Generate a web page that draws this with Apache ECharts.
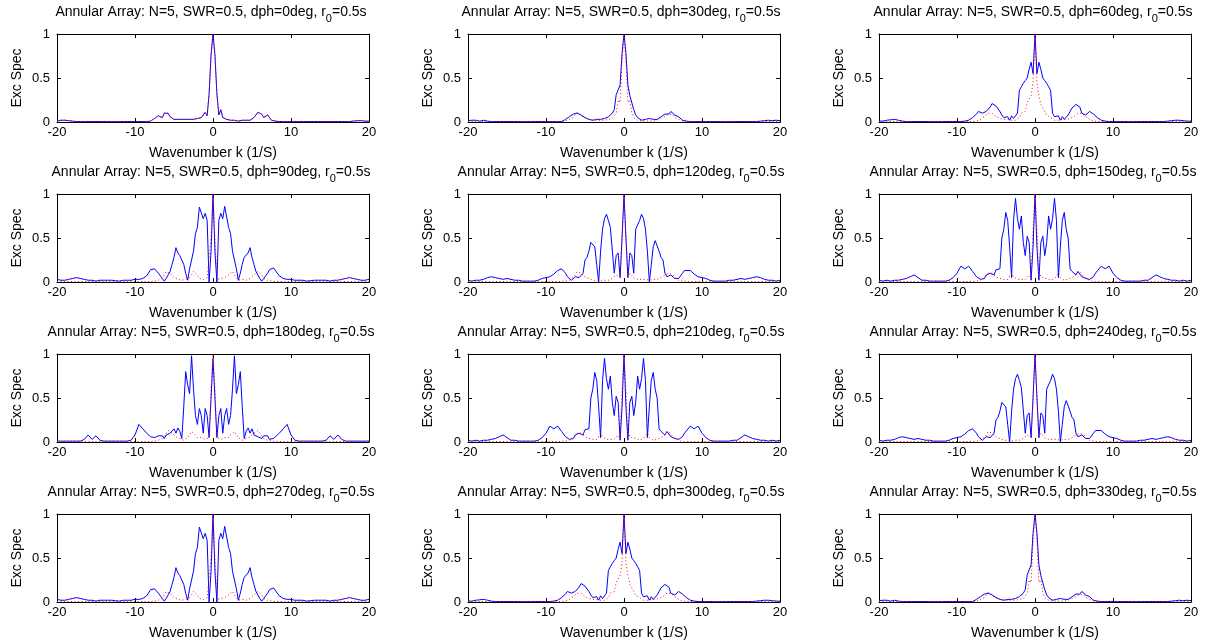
<!DOCTYPE html>
<html>
<head>
<meta charset="utf-8">
<title>Annular Array excitation spectra</title>
<script src="https://cdn.jsdelivr.net/npm/echarts@6/dist/echarts.min.js"></script>
<style>
html, body { margin: 0; padding: 0; background: #ffffff; }
#chart { width: 1207px; height: 644px; }
</style>
</head>
<body>
<div id="chart"></div>
<script>
// Wavenumber sample points k (1/S), shared by every curve
const kGrid = [
  -20,-19.5,-19,-18.5, -18,-17.5,-17,-16.5, -16,-15.5,-15,-14.5, -14,-13.5,-13,-12.5, -12,-11.5,-11,-10.5, -10,-9.5,-9,-8.5,
  -8,-7.75,-7.5,-7.25, -7,-6.75,-6.5,-6.25, -6,-5.75,-5.5,-5.25, -5,-4.75,-4.5,-4.25, -4,-3.75,-3.5,-3.25, -3,-2.75,-2.5,-2.25, -2,-1.75,-1.5,-1.25, -1,-0.75,-0.5,-0.25,
  0,
  0.25,0.5,0.75,1, 1.25,1.5,1.75,2, 2.25,2.5,2.75,3, 3.25,3.5,3.75,4, 4.25,4.5,4.75,5, 5.25,5.5,5.75,6, 6.25,6.5,6.75,7, 7.25,7.5,7.75,8,
  8.5,9,9.5,10, 10.5,11,11.5,12, 12.5,13,13.5,14, 14.5,15,15.5,16, 16.5,17,17.5,18, 18.5,19,19.5,20
];

// Phase step dph (deg) of each panel, row by row
const phases = [0, 30, 60, 90, 120, 150, 180, 210, 240, 270, 300, 330];

const xTicks = [-20, -10, 0, 10, 20];
const yTicks = [0, 0.5, 1];

// Excitation spectrum (solid blue) and reference spectrum (dotted red) per phase
const blue0 = [
  0.01,0.02,0.02,0.015, 0.01,0.005,0.005,0.005, 0.005,0.005,0.005,0.005, 0.005,0.005,0.005,0.005, 0.005,0.005,0.005,0.005, 0.005,0.005,0.005,0.005,
  0.01,0.02,0.04,0.06, 0.07,0.06,0.05,0.1, 0.12,0.1,0.06,0.04, 0.03,0.02,0.03,0.02, 0.03,0.02,0.03,0.01, 0.03,0.02,0.03,0.02, 0.04,0.03,0.05,0.07, 0.11,0.07,0.32,0.76,
  1,
  0.76,0.32,0.08,0.14, 0.05,0.06,0.03,0.04, 0.02,0.03,0.02,0.03, 0.01,0.03,0.02,0.03, 0.02,0.03,0.02,0.03, 0.05,0.07,0.11,0.12, 0.09,0.05,0.07,0.08, 0.05,0.02,0.01,0.01,
  0.005,0.005,0.005,0.005, 0.005,0.005,0.005,0.005, 0.005,0.005,0.005,0.005, 0.005,0.005,0.005,0.005, 0.005,0.005,0.005,0.01, 0.015,0.015,0.01,0.01
];
const red0 = [
  0.01,0.02,0.02,0.015, 0.01,0.005,0.005,0.005, 0.005,0.005,0.005,0.005, 0.005,0.005,0.005,0.005, 0.005,0.005,0.005,0.005, 0.005,0.005,0.005,0.005,
  0.01,0.02,0.04,0.06, 0.07,0.06,0.05,0.1, 0.12,0.1,0.06,0.04, 0.03,0.02,0.03,0.02, 0.03,0.02,0.03,0.01, 0.03,0.02,0.03,0.02, 0.04,0.03,0.05,0.07, 0.11,0.07,0.32,0.76,
  1,
  0.76,0.32,0.08,0.14, 0.05,0.06,0.03,0.04, 0.02,0.03,0.02,0.03, 0.01,0.03,0.02,0.03, 0.02,0.03,0.02,0.03, 0.05,0.07,0.11,0.12, 0.09,0.05,0.07,0.08, 0.05,0.02,0.01,0.01,
  0.005,0.005,0.005,0.005, 0.005,0.005,0.005,0.005, 0.005,0.005,0.005,0.005, 0.005,0.005,0.005,0.005, 0.005,0.005,0.005,0.01, 0.015,0.015,0.01,0.01
];

const blue30 = [
  0.015,0.02,0.02,0.01, 0.02,0.01,0.005,0.005, 0.005,0.005,0.005,0.005, 0.005,0.005,0.005,0.005, 0.005,0.005,0.005,0.005, 0.005,0.005,0.005,0.005,
  0.005,0.01,0.03,0.05, 0.06,0.07,0.09,0.11, 0.1,0.1,0.08,0.06, 0.05,0.04,0.03,0.04, 0.02,0.04,0.03,0.02, 0.03,0.02,0.04,0.05, 0.06,0.08,0.1,0.14, 0.31,0.3,0.42,0.78,
  1,
  0.78,0.42,0.3,0.31, 0.14,0.08,0.05,0.04, 0.02,0.04,0.03,0.02, 0.04,0.02,0.03,0.04, 0.03,0.05,0.06,0.08, 0.09,0.07,0.09,0.12, 0.1,0.08,0.07,0.06, 0.04,0.02,0.01,0.01,
  0.005,0.005,0.005,0.005, 0.005,0.005,0.005,0.005, 0.005,0.005,0.005,0.005, 0.005,0.005,0.005,0.005, 0.005,0.005,0.01,0.015, 0.02,0.015,0.02,0.015
];
const red30 = [
  0.005,0.005,0.005,0.005, 0.005,0.005,0.005,0.005, 0.005,0.005,0.005,0.005, 0.005,0.005,0.005,0.005, 0.005,0.005,0.005,0.005, 0.005,0.005,0.005,0.005,
  0.005,0.005,0.01,0.02, 0.03,0.04,0.05,0.08, 0.11,0.09,0.07,0.06, 0.05,0.04,0.03,0.02, 0.02,0.01,0.02,0.01, 0.02,0.01,0.02,0.01, 0.03,0.02,0.04,0.05, 0.1,0.25,0.22,0.7,
  1,
  0.7,0.22,0.25,0.1, 0.05,0.04,0.02,0.03, 0.01,0.02,0.01,0.02, 0.01,0.02,0.01,0.02, 0.02,0.03,0.04,0.05, 0.06,0.07,0.09,0.11, 0.08,0.05,0.04,0.03, 0.02,0.01,0.005,0.005,
  0.005,0.005,0.005,0.005, 0.005,0.005,0.005,0.005, 0.005,0.005,0.005,0.005, 0.005,0.005,0.005,0.005, 0.005,0.005,0.005,0.005, 0.005,0.005,0.005,0.005
];

const blue60 = [
  0.01,0.01,0.02,0.025, 0.03,0.02,0.01,0.005, 0.005,0.005,0.005,0.005, 0.005,0.005,0.005,0.005, 0.005,0.005,0.005,0.005, 0.005,0.005,0.01,0.02,
  0.05,0.07,0.09,0.12, 0.12,0.1,0.08,0.12, 0.1,0.17,0.21,0.2, 0.18,0.16,0.12,0.08, 0.05,0.03,0.06,0.02, 0.07,0.04,0.06,0.1, 0.36,0.4,0.44,0.47, 0.5,0.6,0.68,0.55,
  1,
  0.55,0.68,0.6,0.5, 0.47,0.44,0.4,0.36, 0.1,0.06,0.04,0.07, 0.02,0.06,0.03,0.05, 0.08,0.12,0.16,0.18, 0.2,0.21,0.17,0.1, 0.12,0.08,0.1,0.12, 0.12,0.09,0.07,0.05,
  0.02,0.01,0.005,0.005, 0.005,0.005,0.005,0.005, 0.005,0.005,0.005,0.005, 0.005,0.005,0.005,0.005, 0.005,0.01,0.015,0.02, 0.02,0.015,0.01,0.01
];
const red60 = [
  0.005,0.005,0.005,0.005, 0.005,0.005,0.005,0.005, 0.005,0.005,0.005,0.005, 0.005,0.005,0.005,0.005, 0.005,0.005,0.005,0.005, 0.005,0.005,0.005,0.005,
  0.005,0.01,0.01,0.02, 0.03,0.04,0.06,0.08, 0.1,0.12,0.1,0.08, 0.06,0.05,0.04,0.03, 0.03,0.02,0.03,0.02, 0.02,0.03,0.02,0.04, 0.05,0.1,0.08,0.12, 0.22,0.2,0.3,0.45,
  1,
  0.45,0.3,0.2,0.22, 0.12,0.08,0.1,0.05, 0.04,0.02,0.03,0.02, 0.02,0.03,0.02,0.03, 0.03,0.04,0.05,0.06, 0.08,0.1,0.12,0.1, 0.08,0.06,0.04,0.03, 0.02,0.01,0.01,0.005,
  0.005,0.005,0.005,0.005, 0.005,0.005,0.005,0.005, 0.005,0.005,0.005,0.005, 0.005,0.005,0.005,0.005, 0.005,0.005,0.005,0.005, 0.005,0.005,0.005,0.005
];

const blue90 = [
  0.03,0.02,0.02,0.03, 0.04,0.05,0.04,0.03, 0.02,0.02,0.01,0.02, 0.02,0.02,0.02,0.015, 0.01,0.02,0.02,0.02, 0.03,0.03,0.04,0.07,
  0.14,0.16,0.15,0.14, 0.1,0.07,0.04,0.01, 0.04,0.08,0.12,0.2, 0.28,0.39,0.33,0.3, 0.28,0.2,0.1,0.02, 0.15,0.25,0.35,0.55, 0.62,0.85,0.86,0.72, 0.78,0.7,0.0,0.35,
  1,
  0.35,0.0,0.7,0.78, 0.72,0.86,0.85,0.62, 0.55,0.35,0.25,0.15, 0.02,0.1,0.2,0.28, 0.3,0.33,0.39,0.28, 0.2,0.12,0.08,0.04, 0.01,0.04,0.07,0.1, 0.14,0.15,0.16,0.14,
  0.07,0.04,0.03,0.03, 0.02,0.02,0.02,0.01, 0.015,0.02,0.02,0.02, 0.02,0.01,0.02,0.02, 0.03,0.04,0.05,0.04, 0.03,0.02,0.02,0.03
];
const red90 = [
  0.005,0.005,0.005,0.005, 0.005,0.005,0.005,0.005, 0.005,0.005,0.005,0.005, 0.005,0.005,0.005,0.005, 0.005,0.005,0.005,0.005, 0.005,0.005,0.005,0.005,
  0.005,0.005,0.01,0.01, 0.02,0.03,0.04,0.08, 0.12,0.12,0.1,0.08, 0.05,0.04,0.03,0.02, 0.02,0.03,0.03,0.02, 0.05,0.08,0.12,0.1, 0.08,0.04,0.05,0.03, 0.04,0.05,0.03,0.5,
  1,
  0.5,0.03,0.05,0.04, 0.03,0.05,0.04,0.08, 0.1,0.12,0.08,0.05, 0.02,0.03,0.03,0.02, 0.02,0.03,0.04,0.05, 0.08,0.1,0.12,0.12, 0.08,0.04,0.03,0.02, 0.01,0.01,0.005,0.005,
  0.005,0.005,0.005,0.005, 0.005,0.005,0.005,0.005, 0.005,0.005,0.005,0.005, 0.005,0.005,0.005,0.005, 0.005,0.005,0.005,0.005, 0.005,0.005,0.005,0.005
];

const blue120 = [
  0.02,0.01,0.02,0.02, 0.03,0.05,0.06,0.05, 0.04,0.03,0.04,0.03, 0.02,0.02,0.01,0.01, 0.01,0.01,0.02,0.04, 0.05,0.06,0.09,0.13,
  0.15,0.13,0.1,0.06, 0.04,0.02,0.04,0.06, 0.08,0.05,0.06,0.1, 0.25,0.28,0.35,0.45, 0.47,0.4,0.2,0.0, 0.35,0.6,0.72,0.77, 0.7,0.62,0.6,0.1, 0.3,0.33,0.05,0.5,
  1,
  0.5,0.05,0.33,0.3, 0.1,0.6,0.62,0.7, 0.77,0.72,0.6,0.35, 0.0,0.2,0.4,0.47, 0.45,0.35,0.28,0.25, 0.1,0.06,0.05,0.08, 0.06,0.04,0.02,0.04, 0.06,0.1,0.13,0.15,
  0.13,0.09,0.06,0.05, 0.04,0.02,0.01,0.01, 0.01,0.01,0.02,0.02, 0.03,0.04,0.03,0.04, 0.05,0.06,0.05,0.03, 0.02,0.02,0.01,0.02
];
const red120 = [
  0.005,0.005,0.005,0.005, 0.005,0.005,0.005,0.005, 0.005,0.005,0.005,0.005, 0.005,0.005,0.005,0.005, 0.005,0.005,0.005,0.005, 0.005,0.005,0.005,0.005,
  0.005,0.005,0.01,0.01, 0.02,0.03,0.05,0.08, 0.12,0.1,0.1,0.08, 0.06,0.05,0.04,0.03, 0.02,0.03,0.02,0.02, 0.01,0.03,0.02,0.03, 0.02,0.03,0.04,0.05, 0.08,0.1,0.05,0.5,
  1,
  0.5,0.05,0.1,0.08, 0.05,0.04,0.03,0.02, 0.03,0.02,0.03,0.01, 0.02,0.02,0.03,0.02, 0.03,0.04,0.05,0.06, 0.08,0.1,0.1,0.12, 0.08,0.05,0.03,0.02, 0.01,0.01,0.005,0.005,
  0.005,0.005,0.005,0.005, 0.005,0.005,0.005,0.005, 0.005,0.005,0.005,0.005, 0.005,0.005,0.005,0.005, 0.005,0.005,0.005,0.005, 0.005,0.005,0.005,0.005
];

const blue150 = [
  0.02,0.01,0.02,0.01, 0.02,0.02,0.03,0.04, 0.06,0.08,0.05,0.02, 0.02,0.01,0.01,0.01, 0.01,0.01,0.02,0.05, 0.1,0.18,0.15,0.18,
  0.12,0.1,0.06,0.05, 0.03,0.05,0.04,0.08, 0.06,0.1,0.12,0.08, 0.14,0.12,0.15,0.5, 0.6,0.79,0.7,0.4, 0.05,0.7,0.95,0.72, 0.6,0.75,0.45,0.3, 0.52,0.45,0.02,0.4,
  1,
  0.4,0.02,0.45,0.52, 0.3,0.45,0.75,0.6, 0.72,0.95,0.7,0.05, 0.4,0.7,0.79,0.6, 0.5,0.15,0.12,0.14, 0.08,0.12,0.1,0.06, 0.08,0.04,0.05,0.03, 0.05,0.06,0.1,0.12,
  0.18,0.15,0.18,0.1, 0.05,0.02,0.01,0.01, 0.01,0.01,0.01,0.02, 0.02,0.05,0.08,0.06, 0.04,0.03,0.02,0.02, 0.01,0.02,0.01,0.02
];
const red150 = [
  0.005,0.005,0.005,0.005, 0.005,0.005,0.005,0.005, 0.005,0.005,0.005,0.005, 0.005,0.005,0.005,0.005, 0.005,0.005,0.005,0.005, 0.005,0.005,0.005,0.005,
  0.005,0.005,0.01,0.01, 0.02,0.03,0.04,0.06, 0.1,0.12,0.1,0.08, 0.06,0.05,0.04,0.03, 0.03,0.02,0.03,0.05, 0.1,0.06,0.04,0.03, 0.02,0.03,0.04,0.03, 0.05,0.08,0.04,0.6,
  1,
  0.6,0.04,0.08,0.05, 0.03,0.04,0.03,0.02, 0.03,0.04,0.06,0.1, 0.05,0.03,0.02,0.03, 0.03,0.04,0.05,0.06, 0.08,0.1,0.12,0.1, 0.06,0.04,0.03,0.02, 0.01,0.01,0.005,0.005,
  0.005,0.005,0.005,0.005, 0.005,0.005,0.005,0.005, 0.005,0.005,0.005,0.005, 0.005,0.005,0.005,0.005, 0.005,0.005,0.005,0.005, 0.005,0.005,0.005,0.005
];

const blue180 = [
  0.01,0.01,0.01,0.01, 0.01,0.01,0.01,0.03, 0.08,0.03,0.07,0.02, 0.01,0.01,0.01,0.01, 0.01,0.01,0.01,0.02, 0.08,0.2,0.15,0.1,
  0.06,0.04,0.05,0.03, 0.07,0.05,0.07,0.04, 0.08,0.06,0.1,0.08, 0.15,0.1,0.16,0.12, 0.04,0.4,0.8,0.65, 0.55,0.98,0.6,0.3, 0.2,0.38,0.3,0.1, 0.38,0.3,0.05,0.5,
  0.95,
  0.5,0.05,0.3,0.38, 0.1,0.3,0.38,0.2, 0.3,0.6,0.98,0.55, 0.65,0.8,0.4,0.04, 0.12,0.16,0.1,0.15, 0.08,0.1,0.06,0.08, 0.04,0.07,0.05,0.07, 0.03,0.05,0.04,0.06,
  0.1,0.15,0.2,0.08, 0.02,0.01,0.01,0.01, 0.01,0.01,0.01,0.01, 0.02,0.07,0.03,0.08, 0.03,0.01,0.01,0.01, 0.01,0.01,0.01,0.01
];
const red180 = [
  0.005,0.005,0.005,0.005, 0.005,0.005,0.005,0.005, 0.005,0.005,0.005,0.005, 0.005,0.005,0.005,0.005, 0.005,0.005,0.005,0.005, 0.005,0.005,0.005,0.005,
  0.005,0.005,0.01,0.01, 0.02,0.03,0.04,0.07, 0.1,0.13,0.12,0.1, 0.08,0.06,0.05,0.04, 0.03,0.02,0.03,0.05, 0.08,0.12,0.1,0.08, 0.05,0.06,0.05,0.04, 0.03,0.04,0.05,0.6,
  1,
  0.6,0.05,0.04,0.03, 0.04,0.05,0.06,0.05, 0.08,0.1,0.12,0.08, 0.05,0.03,0.02,0.03, 0.04,0.05,0.06,0.08, 0.1,0.12,0.13,0.1, 0.07,0.04,0.03,0.02, 0.01,0.01,0.005,0.005,
  0.005,0.005,0.005,0.005, 0.005,0.005,0.005,0.005, 0.005,0.005,0.005,0.005, 0.005,0.005,0.005,0.005, 0.005,0.005,0.005,0.005, 0.005,0.005,0.005,0.005
];

const blue210 = [
  0.02,0.01,0.02,0.01, 0.02,0.02,0.03,0.04, 0.06,0.08,0.05,0.02, 0.02,0.01,0.01,0.01, 0.01,0.01,0.02,0.05, 0.1,0.18,0.15,0.18,
  0.12,0.1,0.06,0.05, 0.03,0.05,0.04,0.08, 0.06,0.1,0.12,0.08, 0.14,0.12,0.15,0.5, 0.6,0.79,0.7,0.4, 0.05,0.7,0.95,0.72, 0.6,0.75,0.45,0.3, 0.52,0.45,0.02,0.4,
  1,
  0.4,0.02,0.45,0.52, 0.3,0.45,0.75,0.6, 0.72,0.95,0.7,0.05, 0.4,0.7,0.79,0.6, 0.5,0.15,0.12,0.14, 0.08,0.12,0.1,0.06, 0.08,0.04,0.05,0.03, 0.05,0.06,0.1,0.12,
  0.18,0.15,0.18,0.1, 0.05,0.02,0.01,0.01, 0.01,0.01,0.01,0.02, 0.02,0.05,0.08,0.06, 0.04,0.03,0.02,0.02, 0.01,0.02,0.01,0.02
];
const red210 = [
  0.005,0.005,0.005,0.005, 0.005,0.005,0.005,0.005, 0.005,0.005,0.005,0.005, 0.005,0.005,0.005,0.005, 0.005,0.005,0.005,0.005, 0.005,0.005,0.005,0.005,
  0.005,0.005,0.01,0.01, 0.02,0.03,0.04,0.06, 0.1,0.12,0.1,0.08, 0.06,0.05,0.04,0.03, 0.03,0.02,0.03,0.05, 0.1,0.06,0.04,0.03, 0.02,0.03,0.04,0.03, 0.05,0.08,0.04,0.6,
  1,
  0.6,0.04,0.08,0.05, 0.03,0.04,0.03,0.02, 0.03,0.04,0.06,0.1, 0.05,0.03,0.02,0.03, 0.03,0.04,0.05,0.06, 0.08,0.1,0.12,0.1, 0.06,0.04,0.03,0.02, 0.01,0.01,0.005,0.005,
  0.005,0.005,0.005,0.005, 0.005,0.005,0.005,0.005, 0.005,0.005,0.005,0.005, 0.005,0.005,0.005,0.005, 0.005,0.005,0.005,0.005, 0.005,0.005,0.005,0.005
];

const blue240 = [
  0.02,0.01,0.02,0.02, 0.03,0.05,0.06,0.05, 0.04,0.03,0.04,0.03, 0.02,0.02,0.01,0.01, 0.01,0.01,0.02,0.04, 0.05,0.06,0.09,0.13,
  0.15,0.13,0.1,0.06, 0.04,0.02,0.04,0.06, 0.08,0.05,0.06,0.1, 0.25,0.28,0.35,0.45, 0.47,0.4,0.2,0.0, 0.35,0.6,0.72,0.77, 0.7,0.62,0.6,0.1, 0.3,0.33,0.05,0.5,
  1,
  0.5,0.05,0.33,0.3, 0.1,0.6,0.62,0.7, 0.77,0.72,0.6,0.35, 0.0,0.2,0.4,0.47, 0.45,0.35,0.28,0.25, 0.1,0.06,0.05,0.08, 0.06,0.04,0.02,0.04, 0.06,0.1,0.13,0.15,
  0.13,0.09,0.06,0.05, 0.04,0.02,0.01,0.01, 0.01,0.01,0.02,0.02, 0.03,0.04,0.03,0.04, 0.05,0.06,0.05,0.03, 0.02,0.02,0.01,0.02
];
const red240 = [
  0.005,0.005,0.005,0.005, 0.005,0.005,0.005,0.005, 0.005,0.005,0.005,0.005, 0.005,0.005,0.005,0.005, 0.005,0.005,0.005,0.005, 0.005,0.005,0.005,0.005,
  0.005,0.005,0.01,0.01, 0.02,0.03,0.05,0.08, 0.12,0.1,0.1,0.08, 0.06,0.05,0.04,0.03, 0.02,0.03,0.02,0.02, 0.01,0.03,0.02,0.03, 0.02,0.03,0.04,0.05, 0.08,0.1,0.05,0.5,
  1,
  0.5,0.05,0.1,0.08, 0.05,0.04,0.03,0.02, 0.03,0.02,0.03,0.01, 0.02,0.02,0.03,0.02, 0.03,0.04,0.05,0.06, 0.08,0.1,0.1,0.12, 0.08,0.05,0.03,0.02, 0.01,0.01,0.005,0.005,
  0.005,0.005,0.005,0.005, 0.005,0.005,0.005,0.005, 0.005,0.005,0.005,0.005, 0.005,0.005,0.005,0.005, 0.005,0.005,0.005,0.005, 0.005,0.005,0.005,0.005
];

const blue270 = [
  0.03,0.02,0.02,0.03, 0.04,0.05,0.04,0.03, 0.02,0.02,0.01,0.02, 0.02,0.02,0.02,0.015, 0.01,0.02,0.02,0.02, 0.03,0.03,0.04,0.07,
  0.14,0.16,0.15,0.14, 0.1,0.07,0.04,0.01, 0.04,0.08,0.12,0.2, 0.28,0.39,0.33,0.3, 0.28,0.2,0.1,0.02, 0.15,0.25,0.35,0.55, 0.62,0.85,0.86,0.72, 0.78,0.7,0.0,0.35,
  1,
  0.35,0.0,0.7,0.78, 0.72,0.86,0.85,0.62, 0.55,0.35,0.25,0.15, 0.02,0.1,0.2,0.28, 0.3,0.33,0.39,0.28, 0.2,0.12,0.08,0.04, 0.01,0.04,0.07,0.1, 0.14,0.15,0.16,0.14,
  0.07,0.04,0.03,0.03, 0.02,0.02,0.02,0.01, 0.015,0.02,0.02,0.02, 0.02,0.01,0.02,0.02, 0.03,0.04,0.05,0.04, 0.03,0.02,0.02,0.03
];
const red270 = [
  0.005,0.005,0.005,0.005, 0.005,0.005,0.005,0.005, 0.005,0.005,0.005,0.005, 0.005,0.005,0.005,0.005, 0.005,0.005,0.005,0.005, 0.005,0.005,0.005,0.005,
  0.005,0.005,0.01,0.01, 0.02,0.03,0.04,0.08, 0.12,0.12,0.1,0.08, 0.05,0.04,0.03,0.02, 0.02,0.03,0.03,0.02, 0.05,0.08,0.12,0.1, 0.08,0.04,0.05,0.03, 0.04,0.05,0.03,0.5,
  1,
  0.5,0.03,0.05,0.04, 0.03,0.05,0.04,0.08, 0.1,0.12,0.08,0.05, 0.02,0.03,0.03,0.02, 0.02,0.03,0.04,0.05, 0.08,0.1,0.12,0.12, 0.08,0.04,0.03,0.02, 0.01,0.01,0.005,0.005,
  0.005,0.005,0.005,0.005, 0.005,0.005,0.005,0.005, 0.005,0.005,0.005,0.005, 0.005,0.005,0.005,0.005, 0.005,0.005,0.005,0.005, 0.005,0.005,0.005,0.005
];

const blue300 = [
  0.01,0.01,0.02,0.025, 0.03,0.02,0.01,0.005, 0.005,0.005,0.005,0.005, 0.005,0.005,0.005,0.005, 0.005,0.005,0.005,0.005, 0.005,0.005,0.01,0.02,
  0.05,0.07,0.09,0.12, 0.12,0.1,0.08,0.12, 0.1,0.17,0.21,0.2, 0.18,0.16,0.12,0.08, 0.05,0.03,0.06,0.02, 0.07,0.04,0.06,0.1, 0.36,0.4,0.44,0.47, 0.5,0.6,0.68,0.55,
  1,
  0.55,0.68,0.6,0.5, 0.47,0.44,0.4,0.36, 0.1,0.06,0.04,0.07, 0.02,0.06,0.03,0.05, 0.08,0.12,0.16,0.18, 0.2,0.21,0.17,0.1, 0.12,0.08,0.1,0.12, 0.12,0.09,0.07,0.05,
  0.02,0.01,0.005,0.005, 0.005,0.005,0.005,0.005, 0.005,0.005,0.005,0.005, 0.005,0.005,0.005,0.005, 0.005,0.01,0.015,0.02, 0.02,0.015,0.01,0.01
];
const red300 = [
  0.005,0.005,0.005,0.005, 0.005,0.005,0.005,0.005, 0.005,0.005,0.005,0.005, 0.005,0.005,0.005,0.005, 0.005,0.005,0.005,0.005, 0.005,0.005,0.005,0.005,
  0.005,0.01,0.01,0.02, 0.03,0.04,0.06,0.08, 0.1,0.12,0.1,0.08, 0.06,0.05,0.04,0.03, 0.03,0.02,0.03,0.02, 0.02,0.03,0.02,0.04, 0.05,0.1,0.08,0.12, 0.22,0.2,0.3,0.45,
  1,
  0.45,0.3,0.2,0.22, 0.12,0.08,0.1,0.05, 0.04,0.02,0.03,0.02, 0.02,0.03,0.02,0.03, 0.03,0.04,0.05,0.06, 0.08,0.1,0.12,0.1, 0.08,0.06,0.04,0.03, 0.02,0.01,0.01,0.005,
  0.005,0.005,0.005,0.005, 0.005,0.005,0.005,0.005, 0.005,0.005,0.005,0.005, 0.005,0.005,0.005,0.005, 0.005,0.005,0.005,0.005, 0.005,0.005,0.005,0.005
];

const blue330 = [
  0.015,0.02,0.02,0.01, 0.02,0.01,0.005,0.005, 0.005,0.005,0.005,0.005, 0.005,0.005,0.005,0.005, 0.005,0.005,0.005,0.005, 0.005,0.005,0.005,0.005,
  0.005,0.01,0.03,0.05, 0.06,0.07,0.09,0.11, 0.1,0.1,0.08,0.06, 0.05,0.04,0.03,0.04, 0.02,0.04,0.03,0.02, 0.03,0.02,0.04,0.05, 0.06,0.08,0.1,0.14, 0.31,0.3,0.42,0.78,
  1,
  0.78,0.42,0.3,0.31, 0.14,0.08,0.05,0.04, 0.02,0.04,0.03,0.02, 0.04,0.02,0.03,0.04, 0.03,0.05,0.06,0.08, 0.09,0.07,0.09,0.12, 0.1,0.08,0.07,0.06, 0.04,0.02,0.01,0.01,
  0.005,0.005,0.005,0.005, 0.005,0.005,0.005,0.005, 0.005,0.005,0.005,0.005, 0.005,0.005,0.005,0.005, 0.005,0.005,0.01,0.015, 0.02,0.015,0.02,0.015
];
const red330 = [
  0.005,0.005,0.005,0.005, 0.005,0.005,0.005,0.005, 0.005,0.005,0.005,0.005, 0.005,0.005,0.005,0.005, 0.005,0.005,0.005,0.005, 0.005,0.005,0.005,0.005,
  0.005,0.005,0.01,0.02, 0.03,0.04,0.05,0.08, 0.11,0.09,0.07,0.06, 0.05,0.04,0.03,0.02, 0.02,0.01,0.02,0.01, 0.02,0.01,0.02,0.01, 0.03,0.02,0.04,0.05, 0.1,0.25,0.22,0.7,
  1,
  0.7,0.22,0.25,0.1, 0.05,0.04,0.02,0.03, 0.01,0.02,0.01,0.02, 0.01,0.02,0.01,0.02, 0.02,0.03,0.04,0.05, 0.06,0.07,0.09,0.11, 0.08,0.05,0.04,0.03, 0.02,0.01,0.005,0.005,
  0.005,0.005,0.005,0.005, 0.005,0.005,0.005,0.005, 0.005,0.005,0.005,0.005, 0.005,0.005,0.005,0.005, 0.005,0.005,0.005,0.005, 0.005,0.005,0.005,0.005
];

const blueCurves = [blue0, blue30, blue60, blue90, blue120, blue150, blue180, blue210, blue240, blue270, blue300, blue330];
const redCurves = [red0, red30, red60, red90, red120, red150, red180, red210, red240, red270, red300, red330];

blueCurves.concat(redCurves).forEach(function (arr, i) {
  if (arr.length !== kGrid.length) {
    throw new Error('curve ' + i + ' has ' + arr.length + ' samples, expected ' + kGrid.length);
  }
});

// ---- layout of the 4 x 3 panel grid ----
const FONT = '"Liberation Sans", Arial, Helvetica, sans-serif';
const colLeft = [57, 468, 879];
const rowTop = [34, 194, 354, 514];
const plotW = 312, plotH = 88;
const titleCenter = [211, 621, 1033];

const axisLineStyle = { color: '#000000', width: 1 };

const grids = [], xAxes = [], yAxes = [], series = [], titles = [];

phases.forEach(function (ph, i) {
  const r = Math.floor(i / 3), c = i % 3;
  grids.push({ left: colLeft[c], top: rowTop[r], width: plotW, height: plotH, containLabel: false, show: false });

  // bottom axis with labels, top axis only closes the box
  xAxes.push({
    type: 'value', gridIndex: i, position: 'bottom',
    min: xTicks[0], max: xTicks[xTicks.length - 1], interval: 10,
    axisLine: { show: true, onZero: false, lineStyle: axisLineStyle },
    axisTick: { show: true, inside: true, length: 4, lineStyle: axisLineStyle },
    axisLabel: { show: true, color: '#000', fontSize: 13, fontFamily: FONT, margin: 4, showMinLabel: true, showMaxLabel: true },
    splitLine: { show: false },
    name: 'Wavenumber k (1/S)', nameLocation: 'middle', nameGap: 24,
    nameTextStyle: { color: '#000', fontSize: 14, fontFamily: FONT }
  });
  xAxes.push({
    type: 'value', gridIndex: i, position: 'top',
    min: xTicks[0], max: xTicks[xTicks.length - 1], interval: 10,
    axisLine: { show: true, onZero: false, lineStyle: axisLineStyle },
    axisTick: { show: true, inside: true, length: 4, lineStyle: axisLineStyle },
    axisLabel: { show: false }, splitLine: { show: false }
  });

  yAxes.push({
    type: 'value', gridIndex: i, position: 'left',
    min: yTicks[0], max: yTicks[yTicks.length - 1], interval: 0.5,
    axisLine: { show: true, onZero: false, lineStyle: axisLineStyle },
    axisTick: { show: true, inside: true, length: 4, lineStyle: axisLineStyle },
    axisLabel: { show: true, color: '#000', fontSize: 13, fontFamily: FONT, margin: 7, showMinLabel: true, showMaxLabel: true },
    splitLine: { show: false },
    name: 'Exc Spec', nameLocation: 'middle', nameGap: 33,
    nameTextStyle: { color: '#000', fontSize: 14, fontFamily: FONT }
  });
  yAxes.push({
    type: 'value', gridIndex: i, position: 'right',
    min: yTicks[0], max: yTicks[yTicks.length - 1], interval: 0.5,
    axisLine: { show: true, onZero: false, lineStyle: axisLineStyle },
    axisTick: { show: true, inside: true, length: 4, lineStyle: axisLineStyle },
    axisLabel: { show: false }, splitLine: { show: false }
  });

  const blue = blueCurves[i], red = redCurves[i];
  series.push({
    type: 'line', xAxisIndex: 2 * i, yAxisIndex: 2 * i,
    data: kGrid.map(function (k, j) { return [k, blue[j]]; }),
    symbol: 'none', showSymbol: false, silent: true, z: 2,
    lineStyle: { color: '#0000ff', width: 1 }
  });
  series.push({
    type: 'line', xAxisIndex: 2 * i, yAxisIndex: 2 * i,
    data: kGrid.map(function (k, j) { return [k, red[j]]; }),
    symbol: 'none', showSymbol: false, silent: true, z: 3,
    lineStyle: { color: '#ff0000', width: 1, type: [1, 2.5] }
  });

  titles.push({
    text: '{a|Annular Array: N=5, SWR=0.5, dph=' + ph + 'deg, r}{s|0}{a|=0.5s}',
    left: titleCenter[c], top: rowTop[r] - 29, textAlign: 'center', padding: 0,
    textStyle: {
      fontWeight: 'normal',
      rich: {
        a: { fontSize: 14, fontWeight: 'normal', fontFamily: FONT, color: '#000', verticalAlign: 'top', lineHeight: 16 },
        s: { fontSize: 11, fontWeight: 'normal', fontFamily: FONT, color: '#000', verticalAlign: 'top', padding: [8, 0, 0, 0], lineHeight: 12 }
      }
    }
  });
});

const chart = echarts.init(document.getElementById('chart'), null, { renderer: 'canvas' });
chart.setOption({
  backgroundColor: '#ffffff',
  animation: false,
  title: titles,
  grid: grids,
  xAxis: xAxes,
  yAxis: yAxes,
  series: series
});
</script>
</body>
</html>
